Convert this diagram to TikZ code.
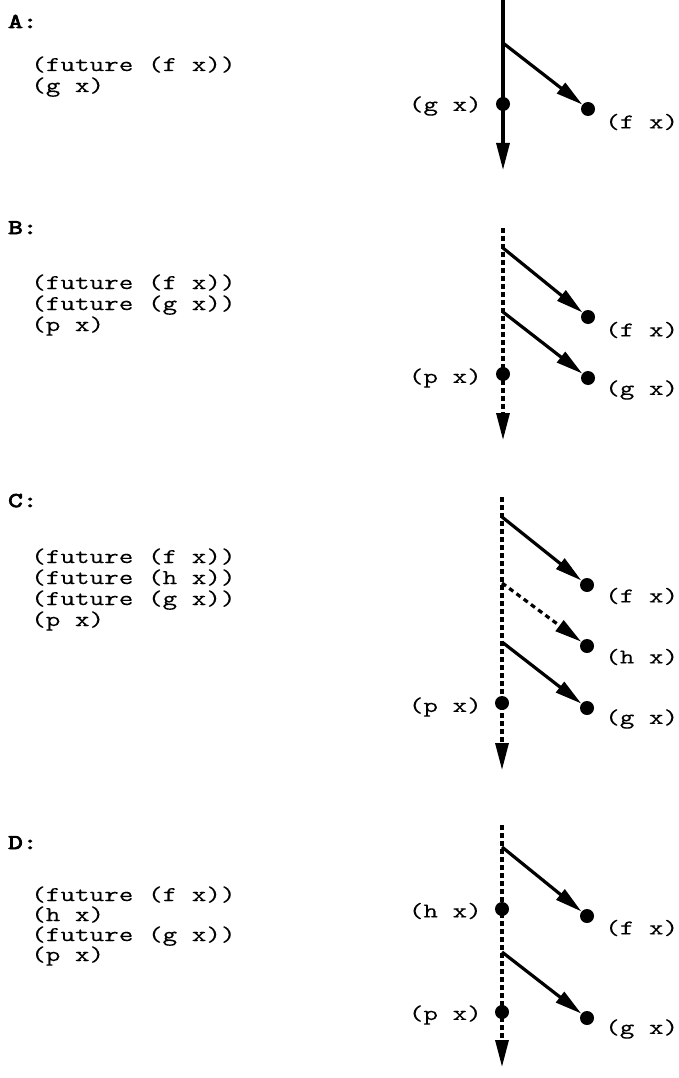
\documentclass[tikz,border=0pt]{standalone}
\usepackage{fontspec}
\newfontfamily\codefont[FakeStretch=1.35,FakeBold=0.2]{Latin Modern Mono}
\newfontfamily\headfont[FakeStretch=1.35,FakeBold=4]{Latin Modern Mono}
\usetikzlibrary{arrows.meta}
\begin{document}
\begin{tikzpicture}[x=1pt,y=-1pt,
  code/.style={font=\codefont\fontsize{21}{21}\selectfont, anchor=base west, inner sep=0pt},
  head/.style={font=\headfont\fontsize{21}{21}\selectfont, anchor=base west, inner sep=0pt},
  lab/.style={font=\codefont\fontsize{21}{21}\selectfont, inner sep=0pt},
  dot/.style={circle, fill=black, minimum size=14pt, inner sep=0pt},
  tip/.style={-{Triangle[length=27pt,width=13pt]}},
  thread/.style={line width=3.2pt, tip},
  dthread/.style={line width=3.2pt, dash pattern=on 5pt off 3pt, tip},
  branch/.style={line width=3.2pt, tip},
  dbranch/.style={line width=3.2pt, dash pattern=on 5pt off 4pt, tip}]
\useasboundingbox (0,0) rectangle (679,1078);

% ---------- A ----------
\node[head] (hA) at (8,28) {A:};
\node[code] (a1) at (31,71) {(future (f x))};
\node[code] (a2) at (31,92) {(g x)};
\coordinate (tA) at (503,0);
\coordinate (eA) at (503,170);
\coordinate (sA1) at (503,43);
\draw[thread] (tA) -- (eA);
\node[dot] (gA) at (503,104) {};
\node[dot] (fA) at (588,109) {};
\draw[branch] (sA1) -- (fA);
\node[lab, anchor=east] (lgA) at (482,106) {(g x)};
\node[lab, anchor=west] (lfA) at (605,122) {(f x)};

% ---------- B ----------
\node[head] (hB) at (8,234) {B:};
\node[code] (b1) at (31,289) {(future (f x))};
\node[code] (b2) at (31,310) {(future (g x))};
\node[code] (b3) at (31,331) {(p x)};
\coordinate (tB) at (503,228);
\coordinate (eB) at (503,440);
\coordinate (sB1) at (503,248);
\coordinate (sB2) at (503,312);
\draw[dthread] (tB) -- (eB);
\node[dot] (pB) at (503,374) {};
\node[dot] (fB) at (588,317) {};
\node[dot] (gB) at (588,378) {};
\draw[branch] (sB1) -- (fB);
\draw[branch] (sB2) -- (gB);
\node[lab, anchor=east] (lpB) at (482,378) {(p x)};
\node[lab, anchor=west] (lfB) at (605,330) {(f x)};
\node[lab, anchor=west] (lgB) at (605,390) {(g x)};

% ---------- C ----------
\node[head] (hC) at (8,507) {C:};
\node[code] (c1) at (31,563) {(future (f x))};
\node[code] (c2) at (31,584) {(future (h x))};
\node[code] (c3) at (31,605) {(future (g x))};
\node[code] (c4) at (31,626) {(p x)};
\coordinate (tC) at (502,497);
\coordinate (eC) at (502,770);
\coordinate (sC1) at (502,517);
\coordinate (sC2) at (502,583);
\coordinate (sC3) at (502,642);
\draw[dthread] (tC) -- (eC);
\node[dot] (pC) at (502,703) {};
\node[dot] (fC) at (587,585) {};
\node[dot] (hxC) at (587,646) {};
\node[dot] (gC) at (587,708) {};
\draw[branch] (sC1) -- (fC);
\draw[dbranch] (sC2) -- (hxC);
\draw[branch] (sC3) -- (gC);
\node[lab, anchor=east] (lpC) at (482,707) {(p x)};
\node[lab, anchor=west] (lfC) at (605,596) {(f x)};
\node[lab, anchor=west] (lhC) at (605,657) {(h x)};
\node[lab, anchor=west] (lgC) at (605,719) {(g x)};

% ---------- D ----------
\node[head] (hD) at (8,849) {D:};
\node[code] (d1) at (31,901) {(future (f x))};
\node[code] (d2) at (31,921) {(h x)};
\node[code] (d3) at (31,941) {(future (g x))};
\node[code] (d4) at (31,961) {(p x)};
\coordinate (tD) at (502,825);
\coordinate (eD) at (502,1067);
\coordinate (sD1) at (502,847);
\coordinate (sD2) at (502,952);
\draw[dthread] (tD) -- (eD);
\node[dot] (hxD) at (502,909) {};
\node[dot] (pD) at (502,1012) {};
\node[dot] (fD) at (587,916) {};
\node[dot] (gD) at (587,1018) {};
\draw[branch] (sD1) -- (fD);
\draw[branch] (sD2) -- (gD);
\node[lab, anchor=east] (lhD) at (482,911) {(h x)};
\node[lab, anchor=east] (lpD) at (482,1015) {(p x)};
\node[lab, anchor=west] (lfD) at (605,928) {(f x)};
\node[lab, anchor=west] (lgD) at (605,1029) {(g x)};
\end{tikzpicture}
\end{document}
